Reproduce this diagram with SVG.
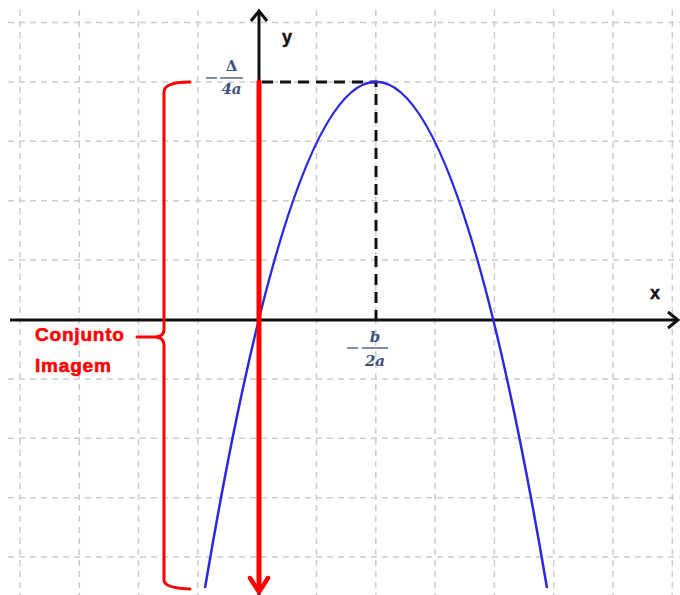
<svg xmlns="http://www.w3.org/2000/svg" width="680" height="595" viewBox="0 0 680 595">
<style>
.grid{stroke:#cccccc;stroke-width:1.5;stroke-dasharray:6 5;fill:none}
.axis{stroke:#111;stroke-width:3;fill:none}
.dash{stroke:#111;stroke-width:3;stroke-dasharray:11 7;fill:none}
.red{stroke:#ff0000;fill:none;stroke-linecap:round;stroke-linejoin:round}
.lbl{font-family:"Liberation Sans",Arial,sans-serif;font-weight:bold}
.math{font-family:"DejaVu Serif","Liberation Serif",serif;font-style:italic;fill:#3a4f82;font-weight:bold}
.mop{font-family:"DejaVu Serif","Liberation Serif",serif;fill:#3a4f82;font-weight:bold}
</style>
<rect width="680" height="595" fill="#fff"/>
<g id="grid" class="grid">
<path d="M20 10V595M79.3 10V595M138.6 10V595M197.9 10V595M316.5 10V595M375.8 10V595M435.1 10V595M494.4 10V595M553.7 10V595M613 10V595M672.3 10V595"/>
<path d="M8 22.5H680M8 81.9H680M8 141.3H680M8 200.7H680M8 260.1H680M8 378.9H680M8 438.3H680M8 497.7H680M8 557.1H680"/>
</g>
<g id="connectors">
<line class="axis" x1="10" y1="320" x2="677" y2="320"/>
<path class="axis" d="M668 312L678 320L668 328"/>
<line class="axis" x1="259" y1="11" x2="259" y2="595"/>
<path class="axis" d="M251 21L259 11L267 21"/>
<path class="dash" d="M262 82H376V320"/>
<path d="M205 588Q376 -424.3 547 588" fill="none" stroke="#2828e6" stroke-width="2.5"/>
<line class="red" x1="259" y1="82" x2="259" y2="590" stroke-width="5" stroke-linecap="butt"/>
<path class="red" d="M250 578L259 592L268 578" stroke-width="4.5"/>
<path class="red" d="M190 82Q164 82 164 92V330Q164 336 156 337H137M156 337Q164 338 164 345V580Q164 588 190 589" stroke-width="3"/>
</g>
<g id="labels">
<text class="lbl" x="282" y="43" font-size="18" fill="#111" stroke="#111" stroke-width="0.4">y</text>
<text class="lbl" x="650" y="299" font-size="18" fill="#111" stroke="#111" stroke-width="0.4">x</text>
<text class="lbl" x="35" y="341" font-size="19" fill="#ff0000" stroke="#ff0000" stroke-width="0.6" letter-spacing="0.8">Conjunto</text>
<text class="lbl" x="35" y="372" font-size="19" fill="#ff0000" stroke="#ff0000" stroke-width="0.6" letter-spacing="0.8">Imagem</text>
<g id="delta">
<line x1="206" y1="78" x2="217" y2="78" stroke="#3a4f82" stroke-width="1.3"/>
<line x1="220" y1="78" x2="243" y2="78" stroke="#3a4f82" stroke-width="1.3"/>
<text class="mop" x="231.5" y="71" font-size="15" text-anchor="middle">Δ</text>
<text class="math" x="231.5" y="94" font-size="15" text-anchor="middle">4a</text>
</g>
<g id="b2a">
<line x1="347" y1="348" x2="358" y2="348" stroke="#3a4f82" stroke-width="1.3"/>
<line x1="362" y1="348" x2="388" y2="348" stroke="#3a4f82" stroke-width="1.3"/>
<text class="math" x="375" y="342" font-size="15" text-anchor="middle">b</text>
<text class="math" x="375" y="366" font-size="15" text-anchor="middle">2a</text>
</g>
</g>
</svg>
